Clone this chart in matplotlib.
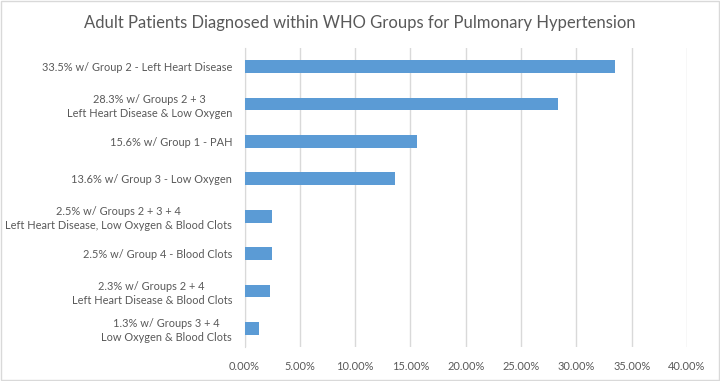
import numpy as np
import matplotlib.pyplot as plt
from matplotlib.patches import Rectangle
from matplotlib.ticker import PercentFormatter

plt.rcParams['font.family'] = ['Lato', 'DejaVu Sans']

## Data (top to bottom as shown)
labels = [
    '33.5% w/ Group 2 - Left Heart Disease',
    '28.3% w/ Groups 2 + 3\nLeft Heart Disease & Low Oxygen',
    '15.6% w/ Group 1 - PAH',
    '13.6% w/ Group 3 - Low Oxygen',
    '2.5% w/ Groups 2 + 3 + 4\nLeft Heart Disease, Low Oxygen & Blood Clots',
    '2.5% w/ Group 4 - Blood Clots',
    '2.3% w/ Groups 2 + 4\nLeft Heart Disease & Blood Clots',
    '1.3% w/ Groups 3 + 4\nLow Oxygen & Blood Clots',
]
values = [33.5, 28.3, 15.6, 13.6, 2.5, 2.5, 2.3, 1.3]
x_ticks = [0, 5, 10, 15, 20, 25, 30, 35, 40]

bar_color = '#5B9BD5'
text_color = '#595959'
grid_color = '#D9D9D9'

# %%
fig = plt.figure(figsize=(7.2, 3.81), dpi=100)
ax = fig.add_axes([244.5 / 720, 1 - 347 / 381, (687 - 244.5) / 720, (347 - 48) / 381])

y = np.arange(len(values))
ax.barh(y, values, height=0.34, color=bar_color, zorder=3)
ax.set_ylim(len(values) - 0.5, -0.5)
ax.set_xlim(0, 40)

ax.set_xticks(x_ticks)
ax.xaxis.set_major_formatter(PercentFormatter(decimals=2))
ax.set_yticks(y)
ax.set_yticklabels(labels)
for t in ax.get_yticklabels():
    t.set_multialignment('center')
    t.set_linespacing(1.35)

ax.tick_params(axis='y', length=0, colors=text_color, labelsize=7.9, pad=9)
ax.tick_params(axis='x', length=0, colors=text_color, labelsize=7.9, pad=10)

ax.grid(axis='x', color=grid_color, linewidth=1, zorder=0)
for side in ['top', 'right', 'bottom']:
    ax.spines[side].set_visible(False)
ax.spines['left'].set_color(grid_color)

fig.text(0.5, 1 - 23 / 381, 'Adult Patients Diagnosed within WHO Groups for Pulmonary Hypertension',
         ha='center', va='center', fontsize=12, color=text_color)

# chart border
fig.patches.append(Rectangle((0.001, 0.002), 0.997, 0.995, transform=fig.transFigure,
                             fill=False, edgecolor=grid_color, linewidth=1))

fig.savefig('out.png', dpi=100)
